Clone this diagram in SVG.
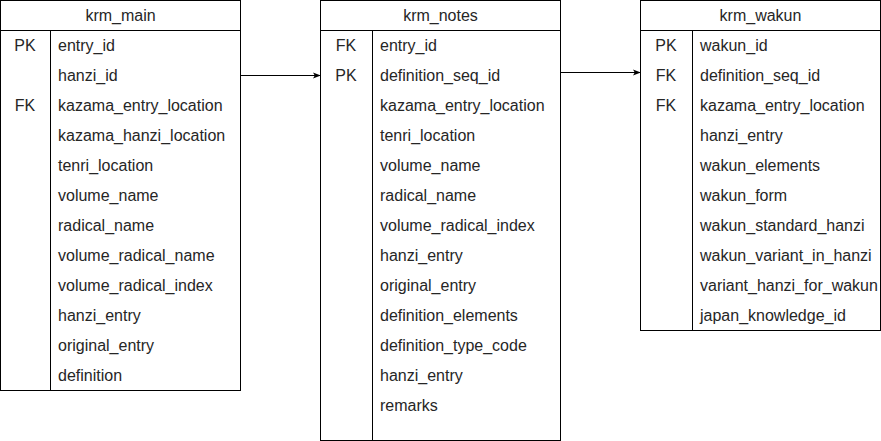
<svg xmlns="http://www.w3.org/2000/svg" width="881" height="441" viewBox="0 0 881 441">
<defs>
<marker id="arr" viewBox="0 0 10 10" refX="9" refY="5" markerWidth="8" markerHeight="8" markerUnits="userSpaceOnUse" orient="auto">
<path d="M0,1 L10,5 L0,9 L2.5,5 Z" fill="#000"/>
</marker>
</defs>
<style>
rect.box{fill:#fff;stroke:#000;stroke-width:1}
line.d{stroke:#000;stroke-width:1}
text{font-family:"Liberation Sans",Arial,sans-serif;font-size:16px;fill:#262626}
text.h{text-anchor:middle}
text.k{text-anchor:middle}
.c{stroke:#000;stroke-width:1;fill:none}
</style>
<rect width="881" height="441" fill="#fff"/>
<g id="krm_main">
<rect class="box" x="0.5" y="0.5" width="240" height="390"/>
<line class="d" x1="0.5" y1="30.5" x2="240.5" y2="30.5"/>
<line class="d" x1="50.5" y1="30.5" x2="50.5" y2="390.5"/>
<text class="h" x="120.5" y="21">krm_main</text>
<text class="k" x="25" y="51">PK</text>
<text class="k" x="25" y="111">FK</text>
<text x="58" y="51">entry_id</text>
<text x="58" y="81">hanzi_id</text>
<text x="58" y="111">kazama_entry_location</text>
<text x="58" y="141">kazama_hanzi_location</text>
<text x="58" y="171">tenri_location</text>
<text x="58" y="201">volume_name</text>
<text x="58" y="231">radical_name</text>
<text x="58" y="261">volume_radical_name</text>
<text x="58" y="291">volume_radical_index</text>
<text x="58" y="321">hanzi_entry</text>
<text x="58" y="351">original_entry</text>
<text x="58" y="381">definition</text>
</g>
<g id="krm_notes">
<rect class="box" x="320.5" y="0.5" width="240" height="440"/>
<line class="d" x1="320.5" y1="30.5" x2="560.5" y2="30.5"/>
<line class="d" x1="372.5" y1="30.5" x2="372.5" y2="440.5"/>
<text class="h" x="440.5" y="21">krm_notes</text>
<text class="k" x="346" y="51">FK</text>
<text class="k" x="346" y="81">PK</text>
<text x="380" y="51">entry_id</text>
<text x="380" y="81">definition_seq_id</text>
<text x="380" y="111">kazama_entry_location</text>
<text x="380" y="141">tenri_location</text>
<text x="380" y="171">volume_name</text>
<text x="380" y="201">radical_name</text>
<text x="380" y="231">volume_radical_index</text>
<text x="380" y="261">hanzi_entry</text>
<text x="380" y="291">original_entry</text>
<text x="380" y="321">definition_elements</text>
<text x="380" y="351">definition_type_code</text>
<text x="380" y="381">hanzi_entry</text>
<text x="380" y="411">remarks</text>
</g>
<g id="krm_wakun">
<rect class="box" x="640.5" y="0.5" width="240" height="330"/>
<line class="d" x1="640.5" y1="30.5" x2="880.5" y2="30.5"/>
<line class="d" x1="692.5" y1="30.5" x2="692.5" y2="330.5"/>
<text class="h" x="760.5" y="21">krm_wakun</text>
<text class="k" x="666" y="51">PK</text>
<text class="k" x="666" y="81">FK</text>
<text class="k" x="666" y="111">FK</text>
<text x="700" y="51">wakun_id</text>
<text x="700" y="81">definition_seq_id</text>
<text x="700" y="111">kazama_entry_location</text>
<text x="700" y="141">hanzi_entry</text>
<text x="700" y="171">wakun_elements</text>
<text x="700" y="201">wakun_form</text>
<text x="700" y="231">wakun_standard_hanzi</text>
<text x="700" y="261">wakun_variant_in_hanzi</text>
<text x="700" y="291">variant_hanzi_for_wakun</text>
<text x="700" y="321">japan_knowledge_id</text>
</g>
<g id="connectors">
<line class="c" x1="240.5" y1="75.5" x2="320" y2="75.5" marker-end="url(#arr)"/>
<line class="c" x1="560.5" y1="72.5" x2="640" y2="72.5" marker-end="url(#arr)"/>
</g>
</svg>
